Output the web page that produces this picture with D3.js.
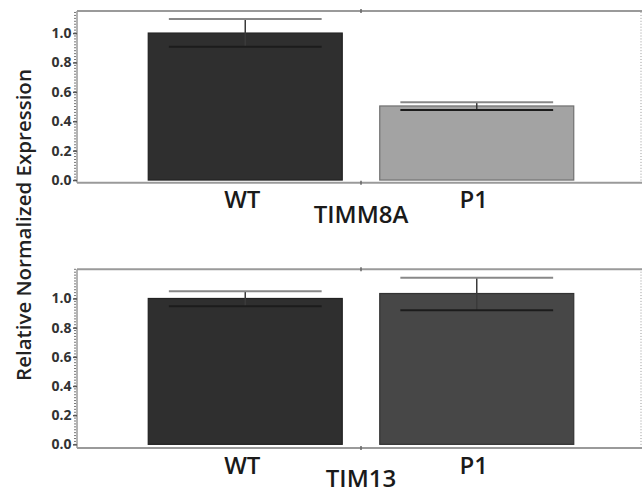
<!DOCTYPE html>
<html><head><meta charset="utf-8">
<script src="https://cdn.jsdelivr.net/npm/d3@7"></script>
<style>body{margin:0;background:#fff}svg{display:block}</style>
</head><body>
<svg id="c" width="642" height="494"></svg>
<script>
// ---- data ----
const categories = ["WT", "P1"];
const panelTitles = ["TIMM8A", "TIM13"];
const timm8aMean = [1.00, 0.504];
const timm8aUpper = [1.095, 0.53];
const timm8aLower = [0.907, 0.477];
const tim13Mean = [1.00, 1.034];
const tim13Upper = [1.05, 1.142];
const tim13Lower = [0.947, 0.919];
const yTicks = [0.0, 0.2, 0.4, 0.6, 0.8, 1.0];
const yLabel = "Relative Normalized Expression";

const panels = [
  {title: panelTitles[0], mean: timm8aMean, up: timm8aUpper, lo: timm8aLower,
   fills: ["#2f2f2f", "#a3a3a3"], strokes: ["#222", "#707070"],
   dom: [-0.018, 1.15], rng: [182.7, 11]},
  {title: panelTitles[1], mean: tim13Mean, up: tim13Upper, lo: tim13Lower,
   fills: ["#2f2f2f", "#474747"], strokes: ["#222", "#333"],
   dom: [-0.025, 1.2], rng: [448, 269.3]}
];

const svg = d3.select("#c");
const left = 77, right = 641;
const x = d3.scaleBand().domain(categories).range([129.5, 592.5]).padding(0);
const barW = x.bandwidth() * 0.838;
const capW = x.bandwidth() * 0.66;
const font = "'Open Sans', 'Noto Sans', sans-serif";

panels.forEach(p => {
  const y = d3.scaleLinear().domain(p.dom).range(p.rng);
  const g = svg.append("g");
  const yT = p.rng[1], yB = p.rng[0];
  const minorVals = d3.range(0, Math.round(p.dom[1]*50)+1).map(i => i/50);

  // minor ticks (dotted look)
  g.selectAll("line.minor").data(minorVals)
    .join("line").attr("x1", left - 3).attr("x2", left - 1)
    .attr("y1", d => y(d)).attr("y2", d => y(d))
    .attr("stroke", "#777").attr("stroke-width", 1);
  // right side faint dotted
  g.selectAll("line.rminor").data(minorVals)
    .join("line").attr("x1", right - 1).attr("x2", right + 1)
    .attr("y1", d => y(d)).attr("y2", d => y(d))
    .attr("stroke", "#ccc").attr("stroke-width", 1);

  // frame
  g.append("line").attr("x1", left).attr("x2", right + 2).attr("y1", yT).attr("y2", yT)
    .attr("stroke", "#9a9a9a").attr("stroke-width", 2);
  g.append("line").attr("x1", left).attr("x2", right + 2).attr("y1", yB).attr("y2", yB)
    .attr("stroke", "#9a9a9a").attr("stroke-width", 2);
  g.append("line").attr("x1", left).attr("x2", left).attr("y1", yT).attr("y2", yB)
    .attr("stroke", "#9a9a9a").attr("stroke-width", 1.5);

  // y axis with major ticks
  const ax = d3.axisLeft(y).tickValues(yTicks).tickFormat(d3.format(".1f")).tickSize(4).tickPadding(1.5);
  const axg = g.append("g").attr("transform", `translate(${left},0)`).call(ax);
  axg.select(".domain").remove();
  axg.selectAll(".tick line").attr("stroke", "#555").attr("stroke-width", 1.5);
  axg.selectAll(".tick text").attr("font-family", font).attr("font-size", 14)
    .attr("font-weight", 700).attr("fill", "#333");

  // category dividers
  const mid = (x(categories[0]) + x.bandwidth() + x(categories[1])) / 2;
  [yT, yB].forEach(yy => {
    g.append("line").attr("x1", mid).attr("x2", mid).attr("y1", yy - 2).attr("y2", yy + 2)
      .attr("stroke", "#666").attr("stroke-width", 1.5);
  });

  // bars
  g.selectAll("rect.bar").data(categories).join("rect")
    .attr("x", d => x(d) + x.bandwidth()/2 - barW/2)
    .attr("width", barW)
    .attr("y", (d, i) => y(p.mean[i]))
    .attr("height", (d, i) => y(0) - y(p.mean[i]))
    .attr("fill", (d, i) => p.fills[i])
    .attr("stroke", (d, i) => p.strokes[i]).attr("stroke-width", 1.2);

  // error bars
  categories.forEach((c, i) => {
    const cx = x(c) + x.bandwidth()/2;
    g.append("line").attr("x1", cx).attr("x2", cx).attr("y1", y(p.up[i])).attr("y2", y(p.lo[i]))
      .attr("stroke", "#3a3a3a").attr("stroke-width", 1.5);
    g.append("line").attr("x1", cx - capW/2).attr("x2", cx + capW/2)
      .attr("y1", y(p.up[i])).attr("y2", y(p.up[i]))
      .attr("stroke", "#888").attr("stroke-width", 2);
    g.append("line").attr("x1", cx - capW/2).attr("x2", cx + capW/2)
      .attr("y1", y(p.lo[i])).attr("y2", y(p.lo[i]))
      .attr("stroke", "#1c1c1c").attr("stroke-width", 2);
  });

  // category labels
  g.selectAll("text.cat").data(categories).join("text")
    .attr("x", (d) => x(d) + x.bandwidth()/2 - 3)
    .attr("y", yB + 25.5)
    .attr("text-anchor", "middle")
    .attr("font-family", font).attr("font-size", 24).attr("font-weight", 600)
    .attr("fill", "#1a1a1a").text(d => d);

  // panel title
  g.append("text").attr("x", mid).attr("y", Math.min(yB + 40, 487))
    .attr("text-anchor", "middle")
    .attr("font-family", font).attr("font-size", 24).attr("font-weight", 600)
    .attr("fill", "#1a1a1a").text(p.title);
});

// y label
svg.append("text").attr("transform", "translate(31,225) rotate(-90)")
  .attr("text-anchor", "middle")
  .attr("font-family", font).attr("font-size", 20.5).attr("font-weight", 600)
  .attr("fill", "#222").text(yLabel);
</script>
</body></html>
